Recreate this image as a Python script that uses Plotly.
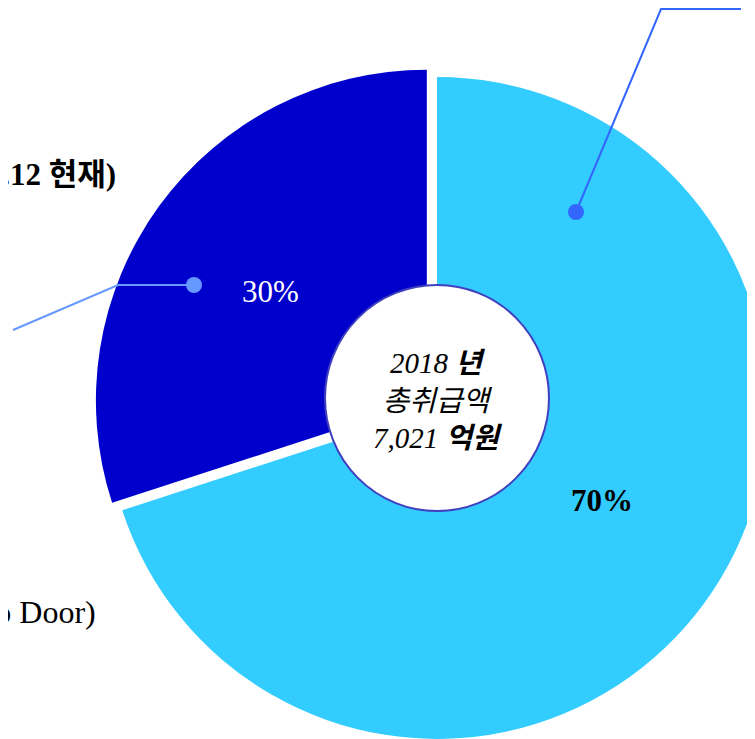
import plotly.graph_objects as go

# 구성비 (%) - 2018년 총취급액 기준
slice_names = ["70% 부문", "30% 부문"]
slice_values = [70, 30]
slice_colors = ["#33CCFF", "#0000CC"]
slice_pull = [0, 0.038]

center_text = "<i>2018</i> <b><i>년</i></b><br><i>총취급액</i><br><i>7,021</i> <b><i>억원</i></b>"

# 그림 크기 (화면보다 조금 크게 잡아서 도넛 오른쪽/아래가 잘리도록)
FIG_W, FIG_H = 800, 760
OFF = 8  # 페이지 body 여백만큼 보정


def px(x):
    return (x - OFF) / FIG_W


def py(y):
    return 1 - (y - OFF) / FIG_H


# 파이 위치: 중심 (437, 408), 반지름 약 331px
cx, cy, box = 437, 408, 687
dom_x = [px(cx - box / 2), px(cx + box / 2)]
dom_y = [py(cy + box / 2), py(cy - box / 2)]

pie = go.Pie(
    labels=slice_names,
    values=slice_values,
    sort=False,
    direction="clockwise",
    rotation=0,
    pull=slice_pull,
    marker=dict(colors=slice_colors, line=dict(width=0)),
    textinfo="none",
    hoverinfo="label+percent",
    domain=dict(x=dom_x, y=dom_y),
    showlegend=False,
)

fig = go.Figure(data=[pie])

shapes = []
# 가운데 흰 원
shapes.append(dict(type="circle", xref="paper", yref="paper",
                   x0=px(437 - 112), x1=px(437 + 112), y0=py(398 + 113), y1=py(398 - 113),
                   fillcolor="white", line=dict(color="#3F3FBF", width=2), layer="above"))

# 오른쪽 위 지시선
shapes.append(dict(type="path", xref="paper", yref="paper",
                   path=f"M {px(576)} {py(212)} L {px(661)} {py(9)} L {px(741)} {py(9)}",
                   line=dict(color="#3366FF", width=2), layer="above"))
shapes.append(dict(type="circle", xref="paper", yref="paper",
                   x0=px(568), x1=px(584), y0=py(220), y1=py(204),
                   fillcolor="#3366FF", line=dict(width=0), layer="above"))

# 왼쪽 지시선
shapes.append(dict(type="path", xref="paper", yref="paper",
                   path=f"M {px(194)} {py(285)} L {px(118)} {py(285)} L {px(13)} {py(330)}",
                   line=dict(color="#6699FF", width=2), layer="above"))
shapes.append(dict(type="circle", xref="paper", yref="paper",
                   x0=px(186), x1=px(202), y0=py(293), y1=py(277),
                   fillcolor="#6699FF", line=dict(width=0), layer="above"))

serif = "Liberation Serif, Noto Sans CJK KR, serif"

annotations = [
    dict(x=px(437), y=py(400), text=center_text, showarrow=False,
         font=dict(family=serif, size=29, color="black"), xanchor="center", yanchor="middle"),
    dict(x=px(270), y=py(291), text=f"{slice_values[1]}%", showarrow=False,
         font=dict(family=serif, size=31, color="white"), xanchor="center", yanchor="middle"),
    dict(x=px(602), y=py(500), text=f"<b>{slice_values[0]}%</b>", showarrow=False,
         font=dict(family=serif, size=31, color="black"), xanchor="center", yanchor="middle"),
    # 왼쪽 끝에서 잘린 글자들 (원본도 잘려 있음)
    dict(x=px(118), y=py(175), text="<b>(2018.12 현재)</b>", showarrow=False,
         font=dict(family=serif, size=31, color="black"), xanchor="right", yanchor="middle"),
    dict(x=px(98), y=py(612), text="(Door to Door)", showarrow=False,
         font=dict(family=serif, size=32, color="black"), xanchor="right", yanchor="middle"),
    dict(x=px(5), y=py(650), text="택배 서비스.", showarrow=False,
         font=dict(family=serif, size=30, color="black"), xanchor="right", yanchor="middle"),
]

fig.update_layout(
    width=FIG_W,
    height=FIG_H,
    margin=dict(l=0, r=0, t=0, b=0),
    paper_bgcolor="white",
    plot_bgcolor="white",
    shapes=shapes,
    annotations=annotations,
)

fig.write_html("out.html")
